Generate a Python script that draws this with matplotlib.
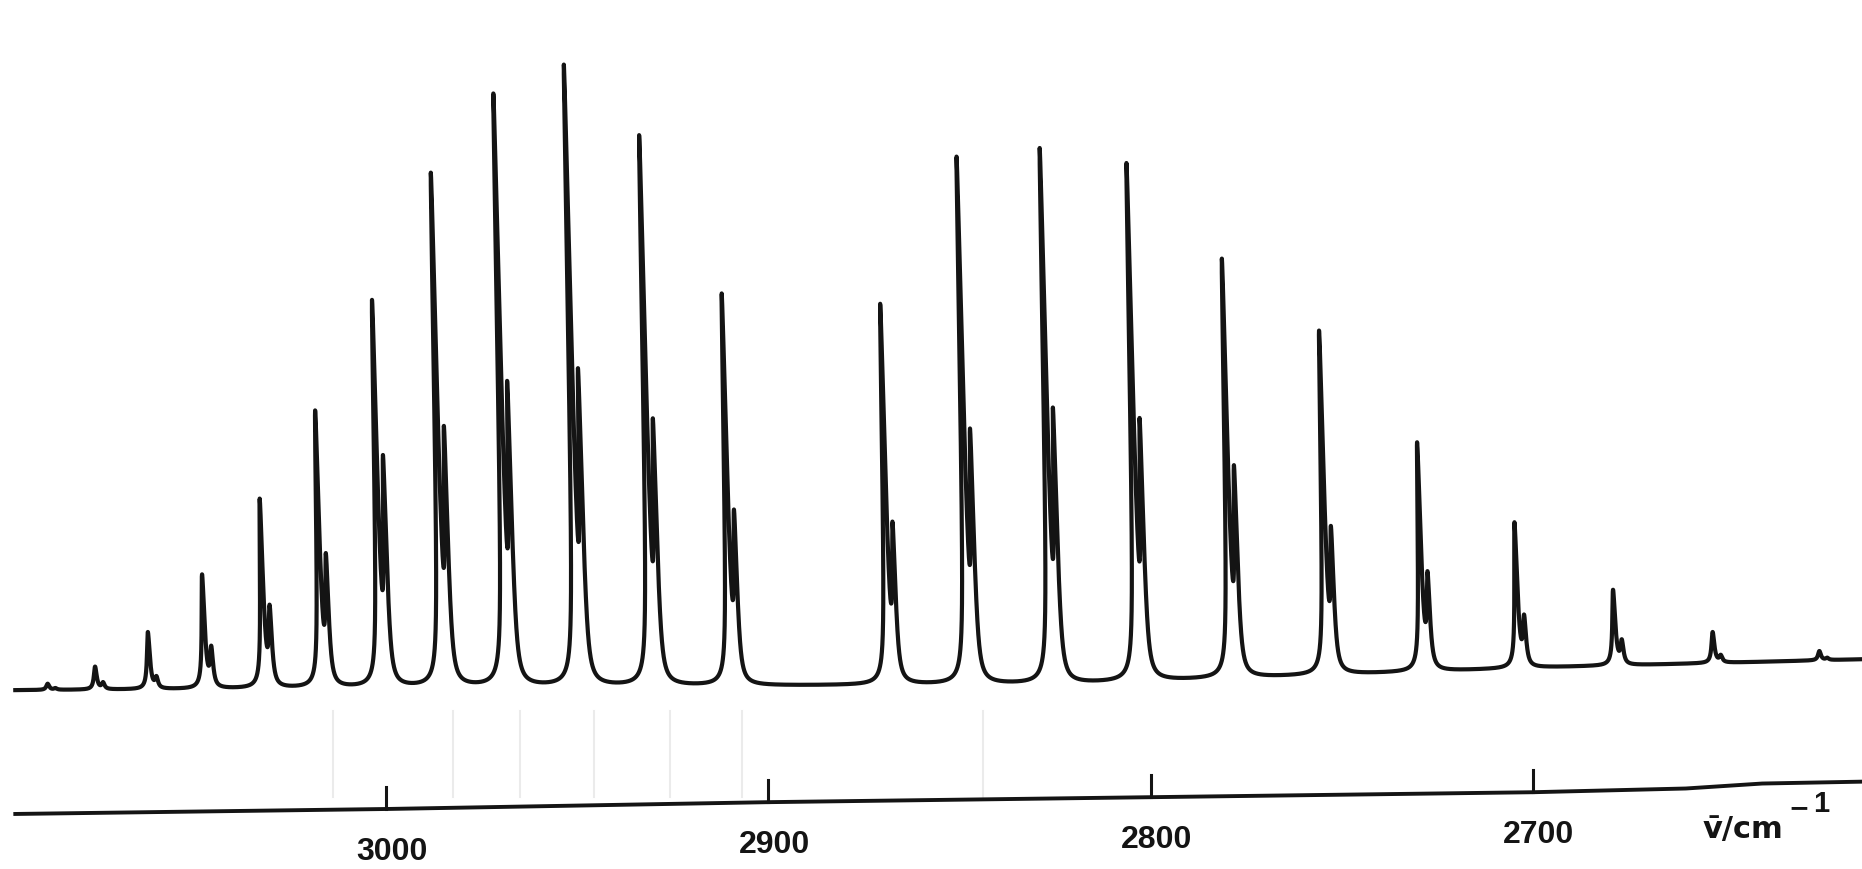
import numpy as np
import matplotlib.pyplot as plt

# HCl fundamental band: line positions (cm^-1) and peak heights (arbitrary units)
r_branch_pos = [3088.5, 3076.0, 3062.0, 3047.5, 3032.0, 3017.0, 3001.5, 2985.4, 2968.6, 2950.0, 2930.7, 2910.0]
r_branch_h35 = [1.0, 3.7, 9.2, 18.4, 30.5, 44.6, 62.3, 82.7, 95.4, 100.0, 88.6, 63.1]
r_branch_h37 = [0.3, 1.2, 2.1, 6.9, 13.4, 21.6, 37.3, 41.9, 49.1, 51.1, 43.0, 28.3]
p_branch_pos = [2868.6, 2847.8, 2826.0, 2803.4, 2779.0, 2754.0, 2729.0, 2704.0, 2678.6, 2652.8, 2625.0]
p_branch_h35 = [61.3, 84.9, 86.2, 83.4, 67.5, 55.4, 36.9, 23.5, 12.2, 5.0, 1.5]
p_branch_h37 = [26.2, 41.1, 44.4, 42.3, 34.2, 23.9, 16.1, 8.6, 4.2, 1.3, 0.4]
isotope_shift = 2.0  # H37Cl lines sit ~2 cm^-1 below H35Cl

# recorder baseline drift
baseline_pos = [3101, 2821, 2696, 2614]
baseline_lvl = [-0.8, 0.2, 2.9, 4.2]

# wavenumber scale printed under the trace
scale_pos = [3097, 3000, 2900, 2800, 2700, 2660, 2640, 2614]
scale_lvl = [-20.7, -19.9, -18.8, -18.0, -17.2, -16.6, -15.8, -15.5]
tick_values = [3000, 2900, 2800, 2700]
tick_labels = ["3000", "2900", "2800", "2700"]

# faint marks on the chart paper
paper_marks = [3014.0, 2982.6, 2964.9, 2945.7, 2925.8, 2906.8, 2843.8]

gamma = 0.45   # line half width
lean = 0.035   # pen arc: tops drift to higher wavenumber

pos = np.array(r_branch_pos + p_branch_pos)
h35 = np.array(r_branch_h35 + p_branch_h35)
h37 = np.array(r_branch_h37 + p_branch_h37)

# amplitudes so the drawn maxima land on the read heights (the pair overlaps)
k = gamma**2 / (isotope_shift**2 + gamma**2)
a35 = (h35 - k * h37) / (1 - k**2)
a37 = np.clip((h37 - k * h35) / (1 - k**2), 0, None)

nu = np.linspace(3097, 2614, 40000)
sig = np.zeros_like(nu)
for p, a, b in zip(pos, a35, a37):
    sig += a * gamma**2 / ((nu - p) ** 2 + gamma**2)
    sig += b * gamma**2 / ((nu - p + isotope_shift) ** 2 + gamma**2)
base = np.interp(nu, baseline_pos[::-1], baseline_lvl[::-1])

fig = plt.figure(figsize=(18.62, 8.70), dpi=100)
ax = fig.add_axes([0, 0, 1, 1])
ax.set_xlim(3101.0, 2613.9)
ax.set_ylim(-29.56, 110.5)
ax.axis("off")

ink = "#141414"
for m in paper_marks:
    ax.plot([m, m], [-4.2, -18.0], color="#ebebeb", lw=1.5, zorder=1)

ax.plot(nu + lean * sig, base + sig, color=ink, lw=3.0, zorder=3)

ax.plot(scale_pos, scale_lvl, color=ink, lw=2.8, zorder=3)
tick_base = np.interp(tick_values, scale_pos[::-1], scale_lvl[::-1])
for t, yb, lab in zip(tick_values, tick_base, tick_labels):
    ax.plot([t, t], [yb, yb + 3.6], color=ink, lw=2.2)
    ax.text(t - 1.5, yb - 8.0, lab, ha="center", va="baseline", fontsize=23,
            fontweight="bold", color=ink, family=["Liberation Sans", "DejaVu Sans"])

ax.text(2645.0, -24.4, "v\u0304/cm", ha="center", va="baseline", fontsize=22,
        fontweight="bold", color=ink, family=["DejaVu Sans"])
ax.text(2630.5, -19.6, "\u2212", ha="center", va="center", fontsize=18,
        fontweight="bold", color=ink, family=["DejaVu Sans"])
ax.text(2624.6, -20.3, "1", ha="center", va="baseline", fontsize=21,
        fontweight="bold", color=ink, family=["Liberation Sans", "DejaVu Sans"])

fig.savefig("out.png", dpi=100)
